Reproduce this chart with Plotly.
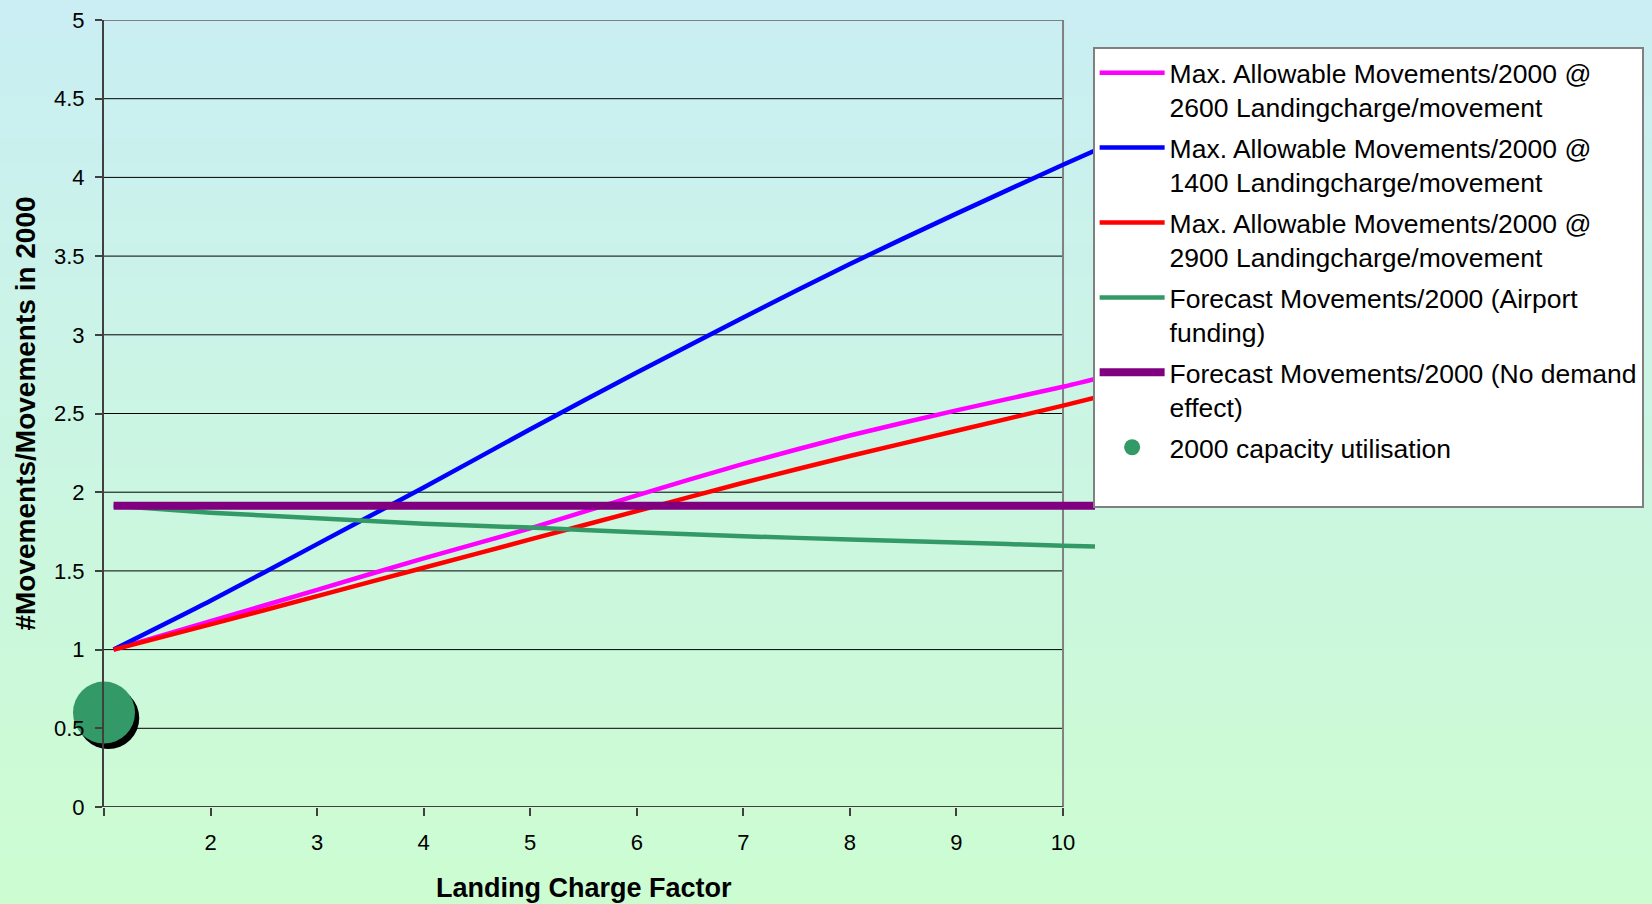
import plotly.graph_objects as go

# ---------------- data ----------------
x_factor = [1.09, 2, 3, 4, 5, 6, 7, 8, 9, 10, 10.3]
max_2600 = [1.00, 1.18, 1.38, 1.58, 1.77, 1.98, 2.18, 2.36, 2.52, 2.67, 2.72]
max_1400 = [1.00, 1.31, 1.67, 2.03, 2.40, 2.76, 3.11, 3.45, 3.77, 4.08, 4.17]
max_2900 = [1.00, 1.16, 1.34, 1.52, 1.70, 1.88, 2.06, 2.23, 2.39, 2.55, 2.60]
forecast_funding = [1.914, 1.87, 1.835, 1.80, 1.775, 1.745, 1.72, 1.70, 1.68, 1.66, 1.655]
forecast_no_demand = [1.914, 1.914, 1.914, 1.914, 1.914, 1.914, 1.914, 1.914, 1.914, 1.914, 1.914]
util_x = [1.0]
util_y = [0.6]

series_names = [
    "Max. Allowable Movements/2000 @<br>2600 Landingcharge/movement",
    "Max. Allowable Movements/2000 @<br>1400 Landingcharge/movement",
    "Max. Allowable Movements/2000 @<br>2900 Landingcharge/movement",
    "Forecast Movements/2000 (Airport<br>funding)",
    "Forecast Movements/2000 (No demand<br>effect)",
    "2000 capacity utilisation<br> ",
]
x_tick_vals = [1, 2, 3, 4, 5, 6, 7, 8, 9, 10]
x_tick_text = ["", "2", "3", "4", "5", "6", "7", "8", "9", "10"]
y_tick_vals = [0, 0.5, 1, 1.5, 2, 2.5, 3, 3.5, 4, 4.5, 5]
y_tick_text = ["0", "0.5", "1", "1.5", "2", "2.5", "3", "3.5", "4", "4.5", "5"]
x_min, x_max = 1, 10
y_min, y_max = 0, 5

FONT = "Arial, 'Liberation Sans', sans-serif"

fig = go.Figure()

line_series = [
    (max_2600, "#FF00FF", 4.5),
    (max_1400, "#0000FF", 4.5),
    (max_2900, "#FF0000", 4.5),
    (forecast_funding, "#339966", 4.5),
    (forecast_no_demand, "#800080", 8),
]
for i, (ys, col, w) in enumerate(line_series):
    fig.add_trace(go.Scatter(
        x=x_factor, y=ys, mode="lines", name=series_names[i],
        line=dict(color=col, width=w, shape="spline", smoothing=0.6),
        legendgroup=f"g{i}",
    ))

# shadow of the utilisation marker (offset a few pixels right/down)
fig.add_trace(go.Scatter(
    x=[v + 0.04 for v in util_x], y=[v - 0.035 for v in util_y], mode="markers",
    marker=dict(color="black", size=62), showlegend=False, cliponaxis=False,
    hoverinfo="skip",
))
fig.add_trace(go.Scatter(
    x=util_x, y=util_y, mode="markers", name=series_names[5],
    marker=dict(color="#339966", size=62), cliponaxis=False, legendgroup="g5",
))

# ---------------- background gradient ----------------
shapes = []
n = 120
top = (202, 237, 246)
bot = (204, 253, 208)
for k in range(n):
    t = k / (n - 1)
    c = tuple(round(top[j] + (bot[j] - top[j]) * t) for j in range(3))
    shapes.append(dict(type="rect", xref="paper", yref="paper",
                       x0=-0.2, x1=1.8, y0=1.1 - (k + 1) * (1.25 / n) - 0.005,
                       y1=1.1 - k * (1.25 / n),
                       fillcolor=f"rgb{c}", line=dict(width=0), layer="below"))

# gridlines between x_min and x_max
for yv in y_tick_vals[1:-1]:
    shapes.append(dict(type="line", xref="x", yref="y", x0=x_min, x1=x_max, y0=yv, y1=yv,
                       line=dict(color="#000000", width=1), layer="below"))
# plot-area frame
shapes.append(dict(type="line", xref="x", yref="y", x0=x_min, x1=x_max, y0=y_max, y1=y_max,
                   line=dict(color="#808080", width=2), layer="below"))
shapes.append(dict(type="line", xref="x", yref="y", x0=x_max, x1=x_max, y0=y_min, y1=y_max,
                   line=dict(color="#808080", width=2), layer="below"))
shapes.append(dict(type="line", xref="x", yref="y", x0=x_min, x1=x_max, y0=y_min, y1=y_min,
                   line=dict(color="#404040", width=2), layer="below"))

fig.update_layout(
    width=1652, height=904,
    margin=dict(l=104, r=557, t=20, b=97, autoexpand=False),
    paper_bgcolor="rgba(0,0,0,0)",
    plot_bgcolor="rgba(0,0,0,0)",
    font=dict(family=FONT, color="black"),
    shapes=shapes,
    showlegend=True,
    legend=dict(
        x=0.9976, y=0.9657, xanchor="left", yanchor="top",
        bgcolor="white", bordercolor="#808080", borderwidth=2,
        font=dict(family=FONT, size=26.5, color="black"),
        valign="top", tracegroupgap=3, itemwidth=65,
        traceorder="grouped",
    ),
    xaxis=dict(
        range=[x_min, 10.3], tickmode="array", tickvals=x_tick_vals, ticktext=x_tick_text,
        showgrid=False, zeroline=False, showline=False,
        ticks="outside", ticklen=8, tickwidth=1.5, tickcolor="#404040",
        tickfont=dict(family=FONT, size=22, color="black"),
        ticklabelstandoff=8,
    ),
    yaxis=dict(
        range=[y_min, y_max], tickmode="array", tickvals=y_tick_vals, ticktext=y_tick_text,
        showgrid=False, zeroline=False, showline=True, linecolor="#404040", linewidth=2,
        ticks="outside", ticklen=7, tickwidth=1.5, tickcolor="#404040",
        tickfont=dict(family=FONT, size=22, color="black"),
        ticklabelstandoff=6,
        title=dict(text="<b>#Movements/Movements in 2000</b>", standoff=10,
                   font=dict(family=FONT, size=28, color="black")),
    ),
    annotations=[dict(
        text="<b>Landing Charge Factor</b>", xref="x", yref="paper",
        x=(x_min + x_max) / 2, y=0, yshift=-81, yanchor="middle", showarrow=False,
        font=dict(family=FONT, size=27, color="black"),
    )],
)

fig.write_html(
    "out.html",
    config={"displayModeBar": False},
    post_script="document.body.style.margin='0';document.body.style.padding='0';"
                "document.body.style.overflow='hidden';",
)
